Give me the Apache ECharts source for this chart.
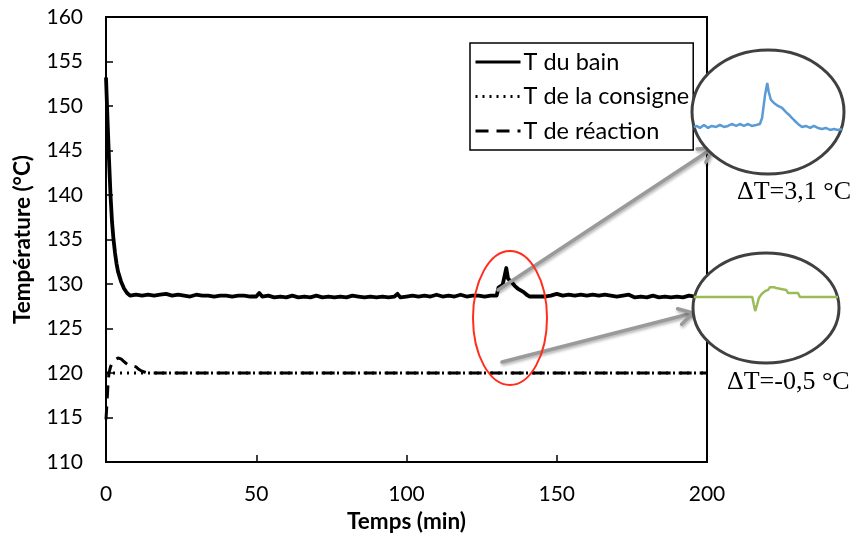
<!DOCTYPE html>
<html>
<head>
    <meta charset="utf-8"/>
    <style>
        html,body { height:100%; width:100%; margin:0; padding:0; background:#fff; }
        #chart { width:856px; height:538px; }
    </style>
</head>
<body>
<div id="chart"></div>

<script src="https://cdn.jsdelivr.net/npm/echarts@6/dist/echarts.min.js"></script>
<script type="text/javascript">

 // axes
 var xTicks = [0, 50, 100, 150, 200];
 var yTicks = [110, 115, 120, 125, 130, 135, 140, 145, 150, 155, 160];

 // T du bain (min, °C)
 var bainT = [0, 0.5, 1, 1.5, 2, 2.5, 3, 3.5, 4, 5, 6, 7, 8, 10, 12, 14, 16, 18, 20, 22, 24, 26, 28, 30,
     32, 34, 36, 38, 40, 42, 44, 46, 48, 50, 51, 52, 54, 56, 58, 60, 62, 64, 66, 68, 70, 72, 74, 76, 78,
     80, 82, 84, 86, 88, 90, 92, 94, 96, 97, 98, 100, 102, 104, 106, 108, 110, 112, 114, 116, 118, 120,
     122, 124, 126, 128, 130, 130.6, 132, 132.6, 133.2, 133.8, 135, 136, 137, 138, 139, 140, 141, 142,
     144, 146, 148, 150, 152, 154, 156, 158, 160, 162, 164, 166, 168, 170, 172, 174, 176, 178, 180, 182,
     184, 186, 188, 190, 192, 194, 196, 198, 200];
 var bainV = [153.2, 148.5, 144, 140, 137, 135, 133.5, 132.3, 131.4, 130.3, 129.5, 129.0, 128.7, 128.8,
     128.7, 128.8, 128.7, 128.8, 128.9, 128.7, 128.8, 128.7, 128.6, 128.8, 128.7, 128.7, 128.6, 128.7,
     128.7, 128.6, 128.7, 128.7, 128.6, 128.6, 129.0, 128.6, 128.7, 128.5, 128.6, 128.5, 128.7, 128.5,
     128.6, 128.5, 128.7, 128.5, 128.6, 128.5, 128.6, 128.5, 128.7, 128.6, 128.5, 128.6, 128.5, 128.6,
     128.5, 128.6, 128.9, 128.5, 128.6, 128.7, 128.6, 128.7, 128.6, 128.8, 128.6, 128.7, 128.6, 128.8,
     128.6, 128.7, 128.7, 128.6, 128.7, 128.7, 129.6, 129.9, 130.0, 131.8, 130.6, 130.2, 129.8, 129.5,
     129.3, 129.1, 128.8, 128.6, 128.6, 128.6, 128.6, 128.7, 128.9, 128.7, 128.8, 128.7, 128.8, 128.7,
     128.8, 128.7, 128.8, 128.7, 128.6, 128.7, 128.8, 128.5, 128.6, 128.5, 128.7, 128.5, 128.6, 128.5,
     128.6, 128.5, 128.7, 128.6, 128.6, 128.6];

 // T de la consigne
 var consigneT = [0, 200];
 var consigneV = [120, 120];

 // T de réaction
 var reactionT = [0, 0.3, 0.7, 1, 1.5, 2, 3, 4, 5, 6, 7, 8, 9, 10, 11, 12, 13, 14, 200];
 var reactionV = [114.8, 116.5, 119, 120, 120.7, 121.1, 121.5, 121.7, 121.6, 121.3, 121.0, 120.8,
     120.8, 120.7, 120.4, 120.2, 120.1, 120, 120];

 // zoom : T du bain autour du pic (ΔT = 3,1 °C)
 var zoomBainT = [125.0, 125.4, 125.8, 126.35, 126.9, 127.4, 128.0, 128.5, 129.05, 129.6, 130.1, 130.7,
     131.2, 131.75, 132.3, 132.8, 133.4, 133.9, 134.2, 134.6, 134.9, 135.1, 135.4, 135.8, 136.35, 136.9,
     137.4, 138.0, 138.5, 139.05, 139.6, 140.1, 140.7, 141.2, 141.75, 142.3, 142.8, 143.4, 143.9, 144.45, 145.0];
 var zoomBainV = [128.70, 128.77, 128.63, 128.84, 128.63, 128.77, 128.70, 128.84, 128.70, 128.77, 128.91,
     128.77, 128.91, 128.77, 128.91, 128.77, 128.84, 128.91, 129.33, 130.95, 131.80, 131.16, 130.60, 130.39,
     130.18, 130.04, 129.76, 129.47, 129.19, 128.91, 128.70, 128.77, 128.63, 128.77, 128.63, 128.56, 128.63,
     128.49, 128.56, 128.49, 128.56];

 // zoom : T de réaction (ΔT = -0,5 °C)
 var zoomReacT = [125.0, 133.1, 133.3, 133.5, 133.75, 134.0, 134.4, 134.9, 135.3, 135.55, 135.8, 136.1,
     136.4, 136.5, 137.8, 138.05, 139.45, 139.7, 145.0];
 var zoomReacV = [120.0, 120.0, 119.74, 119.49, 119.71, 119.96, 120.11, 120.22, 120.26, 120.36, 120.36,
     120.36, 120.33, 120.26, 120.26, 120.15, 120.15, 120.0, 120.0];

 function pairs(t, v) {
     var out = [];
     for (var i = 0; i < t.length; i++) out.push([t[i], v[i]]);
     return out;
 }

 var font = 'Lato';
 var grey = '#9a9a9a';

 // petite flèche : trait + pointe ouverte
 function arrow(x1, y1, x2, y2) {
     var dx = x2 - x1, dy = y2 - y1, len = Math.sqrt(dx * dx + dy * dy);
     var bx = -dx / len, by = -dy / len, c = Math.cos(Math.PI / 6), s = Math.sin(Math.PI / 6), L = 16;
     var p1 = [x2 + L * (bx * c - by * s), y2 + L * (bx * s + by * c)];
     var p2 = [x2 + L * (bx * c + by * s), y2 + L * (-bx * s + by * c)];
     var st = { stroke: grey, lineWidth: 3.5, lineCap: 'round', lineJoin: 'round', fill: null,
         shadowBlur: 3, shadowColor: 'rgba(0,0,0,0.3)', shadowOffsetX: 1, shadowOffsetY: 2 };
     return [
         { type: 'line', z: 95, shape: { x1: x1, y1: y1, x2: x2, y2: y2 }, style: st },
         { type: 'polyline', z: 95, shape: { points: [p1, [x2, y2], p2] }, style: st }
     ];
 }

 var graphics = [
     { type: 'ellipse', z: 96, shape: { cx: 510, cy: 318, rx: 37, ry: 67 },
       style: { fill: null, stroke: '#ff2d1a', lineWidth: 2 } }
 ].concat(arrow(498, 290, 713, 148)).concat(arrow(502, 362, 693, 313)).concat([
     { type: 'ellipse', z: 100, shape: { cx: 768, cy: 112, rx: 76, ry: 62 },
       style: { fill: '#fff', stroke: '#404040', lineWidth: 3 } },
     { type: 'ellipse', z: 100, shape: { cx: 766, cy: 308, rx: 73, ry: 55 },
       style: { fill: '#fff', stroke: '#404040', lineWidth: 3 } },
     { type: 'text', z: 100, left: 737, top: 179,
       style: { text: 'ΔT=3,1 °C', font: '26px "Liberation Serif"', fill: '#000' } },
     { type: 'text', z: 100, left: 727, top: 369,
       style: { text: 'ΔT=-0,5 °C', font: '26px "Liberation Serif"', fill: '#000' } }
 ]);

 var hidden = { show: false };

 var options = {
     animation: false,
     backgroundColor: '#fff',
     textStyle: { fontFamily: font },
     legend: {
         orient: 'vertical',
         left: 470,
         top: 43,
         padding: [7, 4, 7, 4],
         itemWidth: 45,
         itemHeight: 14,
         itemGap: 10.5,
         borderColor: '#000',
         borderWidth: 1.5,
         backgroundColor: '#fff',
         itemStyle: { opacity: 0 },
         lineStyle: { width: 3 },
         textStyle: { fontFamily: font, fontSize: 23.5, color: '#000', lineHeight: 24, padding: [0, 0, 0, -2] },
         data: ['T du bain', 'T de la consigne', 'T de réaction']
     },
     grid: [
         { left: 106, right: 149, top: 17, bottom: 71, show: true, borderColor: '#000', borderWidth: 2 },
         { left: 694, top: 73, width: 148, height: 71 },
         { left: 694, top: 280.6, width: 144, height: 32.9 }
     ],
     xAxis: [
         {
             type: 'value', min: 0, max: 200, interval: 50,
             name: 'Temps (min)', nameLocation: 'middle', nameGap: 46,
             nameTextStyle: { fontFamily: font, fontSize: 22.5, fontWeight: 'bold', color: '#000' },
             axisLine: { lineStyle: { color: '#000', width: 2 } },
             axisTick: { inside: true, length: 7, lineStyle: { color: '#000', width: 1.5 } },
             axisLabel: { fontFamily: font, fontSize: 21, color: '#000', margin: 22 },
             splitLine: hidden
         },
         { gridIndex: 1, type: 'value', min: 125, max: 145, show: false },
         { gridIndex: 2, type: 'value', min: 125, max: 145, show: false }
     ],
     yAxis: [
         {
             type: 'value', min: 110, max: 160, interval: 5,
             name: 'Température (°C)', nameLocation: 'middle', nameGap: 72,
             nameTextStyle: { fontFamily: font, fontSize: 22.5, fontWeight: 'bold', color: '#000' },
             axisLine: { show: true, lineStyle: { color: '#000', width: 2 } },
             axisTick: { show: true, inside: true, length: 7, lineStyle: { color: '#000', width: 1.5 } },
             axisLabel: { fontFamily: font, fontSize: 21, color: '#000', margin: 23 },
             splitLine: hidden
         },
         { gridIndex: 1, type: 'value', min: 127.5, max: 132.5, show: false },
         { gridIndex: 2, type: 'value', min: 119.4, max: 120.6, show: false }
     ],
     graphic: { elements: graphics },
     series: [
         {
             name: 'T de réaction', type: 'line', symbol: 'none', z: 3,
             lineStyle: { color: '#000', width: 3, type: [13, 8] },
             itemStyle: { color: '#000' },
             data: pairs(reactionT, reactionV)
         },
         {
             name: 'T de la consigne', type: 'line', symbol: 'none', z: 4,
             lineStyle: { color: '#000', width: 3, type: [2, 5] },
             itemStyle: { color: '#000' },
             data: pairs(consigneT, consigneV)
         },
         {
             name: 'T du bain', type: 'line', symbol: 'none', z: 5,
             lineStyle: { color: '#000', width: 3.8, join: 'round' },
             itemStyle: { color: '#000' },
             data: pairs(bainT, bainV)
         },
         {
             name: 'zoom bain', type: 'line', symbol: 'none', z: 110,
             xAxisIndex: 1, yAxisIndex: 1,
             lineStyle: { color: '#5b9bd5', width: 2.5 },
             data: pairs(zoomBainT, zoomBainV)
         },
         {
             name: 'zoom réaction', type: 'line', symbol: 'none', z: 110,
             xAxisIndex: 2, yAxisIndex: 2,
             lineStyle: { color: '#9bbb59', width: 2.5 },
             data: pairs(zoomReacT, zoomReacV)
         }
     ]
 };

 var myChart = echarts.init(document.getElementById('chart'));
 myChart.setOption(options);

</script>
</body>
</html>
